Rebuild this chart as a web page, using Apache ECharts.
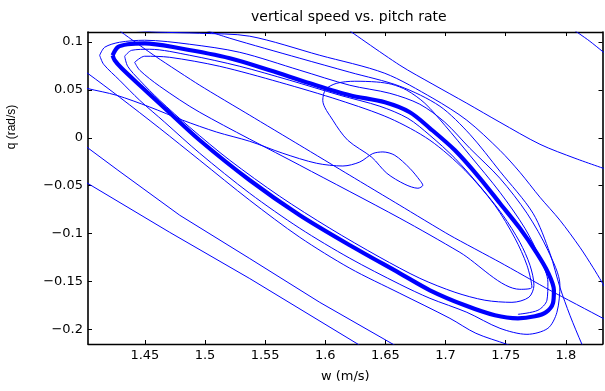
<!DOCTYPE html>
<html>
<head>
<meta charset="utf-8">
<script src="https://cdn.jsdelivr.net/npm/echarts@6.0.0/dist/echarts.min.js"></script>
<style>
  html, body { margin: 0; padding: 0; background: #fff; }
  #chart { width: 605px; height: 391px; }
</style>
</head>
<body>
<div id="chart"></div>
<script>
// axis ranges and tick labels
const wRange = [1.4027, 1.8305];
const qRange = [-0.2153, 0.1104];
const wTicks = [1.45, 1.5, 1.55, 1.6, 1.65, 1.7, 1.75, 1.8];
const qTicks = [-0.2, -0.15, -0.1, -0.05, 0, 0.05, 0.1];

// [w, q]
// the settled orbit (thick band)
const limitCycle = [
  [1.4232, 0.0861], [1.4274, 0.0945], [1.4357, 0.0976], [1.4498, 0.0986], [1.4790, 0.0934],
  [1.5206, 0.0830], [1.5538, 0.0705], [1.5871, 0.0569], [1.6204, 0.0444], [1.6495, 0.0370],
  [1.6703, 0.0266], [1.6870, 0.0099], [1.7078, -0.0131], [1.7286, -0.0423], [1.7452, -0.0684],
  [1.7618, -0.0945], [1.7760, -0.1206], [1.7851, -0.1404], [1.7901, -0.1592], [1.7893, -0.1728],
  [1.7835, -0.1822], [1.7743, -0.1864], [1.7602, -0.1885], [1.7410, -0.1853], [1.7161, -0.1749],
  [1.6870, -0.1592], [1.6620, -0.1415], [1.6204, -0.1122], [1.5788, -0.0809], [1.5372, -0.0444],
  [1.4956, -0.0026], [1.4665, 0.0308], [1.4457, 0.0548], [1.4307, 0.0725], [1.4249, 0.0809],
  [1.4232, 0.0861]
];

// orbit just outside the band
const outerLoop = [
  [1.4124, 0.0861], [1.4166, 0.0945], [1.4290, 0.0997], [1.4498, 0.1018], [1.4873, 0.0976],
  [1.5289, 0.0892], [1.5788, 0.0705], [1.6204, 0.0548], [1.6537, 0.0464], [1.6786, 0.0350],
  [1.6994, 0.0162], [1.7202, -0.0110], [1.7452, -0.0423], [1.7677, -0.0788], [1.7851, -0.1175],
  [1.7951, -0.1540], [1.7926, -0.1822], [1.7851, -0.1989], [1.7677, -0.2052], [1.7452, -0.1989],
  [1.7177, -0.1822], [1.6870, -0.1676], [1.6620, -0.1530], [1.6204, -0.1258], [1.5788, -0.0945],
  [1.5372, -0.0580], [1.4956, -0.0162], [1.4665, 0.0162], [1.4457, 0.0391], [1.4290, 0.0600],
  [1.4157, 0.0767], [1.4124, 0.0861]
];

// orbit just inside the band
const innerLoop = [
  [1.4332, 0.0851], [1.4390, 0.0913], [1.4540, 0.0924], [1.4873, 0.0861], [1.5289, 0.0746],
  [1.5705, 0.0600], [1.6121, 0.0444], [1.6454, 0.0329], [1.6687, 0.0203], [1.6870, 0.0025],
  [1.7078, -0.0214], [1.7286, -0.0506], [1.7477, -0.0809], [1.7618, -0.1091], [1.7702, -0.1331],
  [1.7735, -0.1540], [1.7693, -0.1665], [1.7552, -0.1718], [1.7327, -0.1696], [1.7078, -0.1613],
  [1.6786, -0.1467], [1.6454, -0.1248], [1.6038, -0.0945], [1.5621, -0.0611], [1.5206, -0.0235],
  [1.4873, 0.0109], [1.4623, 0.0391], [1.4457, 0.0600], [1.4357, 0.0746], [1.4332, 0.0851]
];

// narrow orbit with the sharp turn at the lower right
const narrowLoop = [
  [1.4415, 0.0788], [1.4498, 0.0851], [1.4706, 0.0840], [1.5122, 0.0746], [1.5621, 0.0579],
  [1.6121, 0.0391], [1.6537, 0.0203], [1.6870, -0.0026], [1.7161, -0.0339], [1.7410, -0.0705],
  [1.7577, -0.1049], [1.7677, -0.1331], [1.7718, -0.1561], [1.7618, -0.1582], [1.7119, -0.1196],
  [1.6620, -0.0840], [1.5788, -0.0287], [1.4956, 0.0266], [1.4623, 0.0538], [1.4457, 0.0705],
  [1.4415, 0.0788]
];

// path from the left edge through the small loop in the middle
const centerPath = [
  [1.3958, 0.0538], [1.4027, 0.0513], [1.4263, 0.0444], [1.4540, 0.0321], [1.4815, 0.0183],
  [1.5095, 0.0060], [1.5372, -0.0037], [1.5647, -0.0162], [1.5927, -0.0266], [1.6146, -0.0295],
  [1.6287, -0.0253], [1.6395, -0.0165], [1.6479, -0.0148], [1.6578, -0.0183], [1.6703, -0.0319],
  [1.6786, -0.0444], [1.6811, -0.0496], [1.6770, -0.0527], [1.6662, -0.0486], [1.6512, -0.0371],
  [1.6387, -0.0204], [1.6187, -0.0026], [1.6063, 0.0183], [1.5979, 0.0391], [1.6004, 0.0506],
  [1.6096, 0.0569], [1.6245, 0.0590], [1.6428, 0.0582], [1.6553, 0.0558], [1.6678, 0.0496],
  [1.6828, 0.0360], [1.6994, 0.0130], [1.7202, -0.0183], [1.7452, -0.0569], [1.7660, -0.0945],
  [1.7785, -0.1258], [1.7851, -0.1508], [1.7843, -0.1696], [1.7768, -0.1801], [1.7602, -0.1843]
];

// pieces of the wide orbits that leave the frame
const cornerLine = [[1.8034, 0.1153], [1.8200, 0.1007], [1.8384, 0.0819]];
const topRightLine = [
  [1.6162, 0.1153], [1.6620, 0.0757], [1.6895, 0.0558], [1.7177, 0.0360], [1.7452, 0.0162],
  [1.7785, -0.0068], [1.8076, -0.0214], [1.8384, -0.0350]
];
const topLine = [
  [1.4290, 0.1133], [1.4596, 0.1104], [1.4956, 0.1091], [1.5372, 0.1060], [1.5954, 0.0861],
  [1.6495, 0.0673], [1.6895, 0.0412], [1.7177, 0.0183], [1.7452, -0.0131], [1.7618, -0.0360],
  [1.7785, -0.0621], [1.7951, -0.0861], [1.8117, -0.1143], [1.8225, -0.1352], [1.8300, -0.1508],
  [1.8384, -0.1696]
];
const rightDropLine = [
  [1.4956, 0.1143], [1.5206, 0.1039], [1.5788, 0.0830], [1.6204, 0.0684], [1.6620, 0.0538],
  [1.6953, 0.0329], [1.7202, 0.0036], [1.7452, -0.0350], [1.7727, -0.0788], [1.7868, -0.1206],
  [1.7951, -0.1561], [1.8034, -0.1853], [1.8134, -0.2156], [1.8168, -0.2240]
];
const crossLine = [
  [1.4249, 0.1174], [1.4304, 0.1104], [1.4596, 0.0843], [1.4956, 0.0548], [1.5372, 0.0235],
  [1.5788, -0.0078], [1.6204, -0.0392], [1.6620, -0.0705], [1.7036, -0.1018], [1.7452, -0.1300],
  [1.7868, -0.1592], [1.8309, -0.1885], [1.8384, -0.1937]
];
const leftLine = [
  [1.3958, 0.0725], [1.4027, 0.0670], [1.4290, 0.0423], [1.4623, 0.0099], [1.4956, -0.0235],
  [1.5372, -0.0653], [1.5788, -0.1039], [1.6204, -0.1362], [1.6620, -0.1624], [1.7036, -0.1885],
  [1.7252, -0.2041], [1.7510, -0.2156], [1.7618, -0.2208]
];
const lowerLine1 = [
  [1.3958, -0.0026], [1.4027, -0.0107], [1.4276, -0.0339], [1.4790, -0.0809], [1.5372, -0.1261],
  [1.5954, -0.1718], [1.6564, -0.2156], [1.6662, -0.2229]
];
const lowerLine2 = [
  [1.3958, -0.0423], [1.4027, -0.0478], [1.4706, -0.0987], [1.5372, -0.1470], [1.6273, -0.2156],
  [1.6370, -0.2229]
];

const chart = echarts.init(document.getElementById('chart'));

const labelFont = { fontFamily: 'DejaVu Sans', fontSize: 13, color: '#000' };
const fmt = (v) => (v < 0 ? '\u2212' + String(-v) : String(v));

const xAxisBase = {
  type: 'value',
  min: wRange[0],
  max: wRange[1],
  splitLine: { show: false },
  axisLine: { show: true, onZero: false, lineStyle: { color: '#000', width: 1.3 } },
  axisTick: { show: true, inside: true, length: 4, customValues: wTicks, lineStyle: { color: '#000' } }
};
const yAxisBase = {
  type: 'value',
  min: qRange[0],
  max: qRange[1],
  splitLine: { show: false },
  axisLine: { show: true, onZero: false, lineStyle: { color: '#000', width: 1.6 } },
  axisTick: { show: true, inside: true, length: 4, customValues: qTicks, lineStyle: { color: '#000' } }
};

function curve(data, width, smooth) {
  return {
    type: 'line',
    data: data,
    showSymbol: false,
    symbol: 'none',
    smooth: smooth,
    clip: true,
    silent: true,
    lineStyle: { color: '#0000ff', width: width }
  };
}

chart.setOption({
  animation: false,
  backgroundColor: '#fff',
  title: {
    text: 'vertical speed vs. pitch rate',
    left: 246,
    top: 5,
    textStyle: { fontFamily: 'DejaVu Sans', fontSize: 14, fontWeight: 'normal', color: '#000' }
  },
  grid: { left: 88, right: 2.5, top: 32, bottom: 47, containLabel: false },
  xAxis: [
    Object.assign({}, xAxisBase, {
      position: 'bottom',
      axisLabel: Object.assign({ customValues: wTicks, margin: 5, formatter: fmt }, labelFont),
      name: 'w (m/s)',
      nameLocation: 'middle',
      nameGap: 26,
      nameTextStyle: labelFont
    }),
    Object.assign({}, xAxisBase, { position: 'top', axisLabel: { show: false } })
  ],
  yAxis: [
    Object.assign({}, yAxisBase, {
      position: 'left',
      axisLabel: Object.assign({ customValues: qTicks, margin: 5, formatter: fmt }, labelFont)
    }),
    Object.assign({}, yAxisBase, { position: 'right', axisLabel: { show: false } })
  ],
  graphic: [{
    type: 'text',
    x: 12,
    y: 127,
    rotation: Math.PI / 2,
    style: {
      text: 'q (rad/s)',
      fill: '#000',
      font: '12px "Liberation Sans"',
      align: 'center',
      verticalAlign: 'middle',
      textAlign: 'center',
      textVerticalAlign: 'middle'
    }
  }],
  series: [
    curve(lowerLine1, 1, false),
    curve(lowerLine2, 1, false),
    curve(leftLine, 1, 0.3),
    curve(cornerLine, 1, 0.3),
    curve(topRightLine, 1, 0.3),
    curve(topLine, 1, 0.3),
    curve(rightDropLine, 1, 0.3),
    curve(crossLine, 1, 0.2),
    curve(centerPath, 1, 0.3),
    curve(outerLoop, 1, 0.3),
    curve(innerLoop, 1, 0.3),
    curve(narrowLoop, 1, 0.3),
    curve(limitCycle, 4.2, 0.3)
  ]
});
</script>
</body>
</html>
